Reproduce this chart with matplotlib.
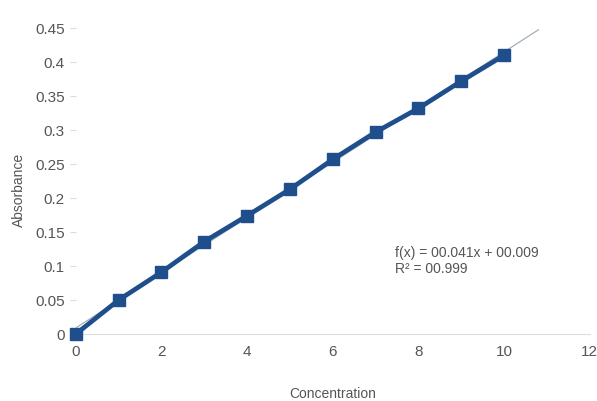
import numpy as np
import matplotlib.pyplot as plt

# Calibration data
concentration = [0, 1, 2, 3, 4, 5, 6, 7, 8, 9, 10]
absorbance = [0.0, 0.050, 0.091, 0.136, 0.174, 0.213, 0.257, 0.297, 0.332, 0.372, 0.410]
x_ticks = [0, 2, 4, 6, 8, 10, 12]
y_ticks = [0, 0.05, 0.1, 0.15, 0.2, 0.25, 0.3, 0.35, 0.4, 0.45]
y_tick_labels = ['0', '0.05', '0.1', '0.15', '0.2', '0.25', '0.3', '0.35', '0.4', '0.45']

plt.rcParams['font.family'] = ['Liberation Sans', 'DejaVu Sans']
grey = '#555555'

fig = plt.figure(figsize=(5.97, 4.01), dpi=100)
ax = fig.add_axes([0.127, 0.167, 0.861, 0.763])

# Linear trendline
slope, intercept = np.polyfit(concentration, absorbance, 1)
xt = np.array([0, 10.8])
ax.plot(xt, slope * xt + intercept, color='#9aa6b8', lw=0.8, zorder=2)

ax.plot(concentration, absorbance, color='#1f4e8c', lw=3.4, marker='s',
        markersize=9, zorder=3, clip_on=False)

ax.set_xlim(0, 12)
ax.set_ylim(0, 0.45)
ax.set_xticks(x_ticks)
ax.set_yticks(y_ticks)
ax.set_yticklabels(y_tick_labels)
ax.tick_params(axis='both', colors=grey, labelsize=11, length=0, pad=8)
ax.tick_params(axis='y', length=4, color='#dddddd', pad=4)

for side in ['top', 'right', 'left']:
    ax.spines[side].set_visible(False)
ax.spines['bottom'].set_color('#dddddd')

ax.set_xlabel('Concentration', color=grey, fontsize=10, labelpad=20)
ax.set_ylabel('Absorbance', color=grey, fontsize=10)
ax.yaxis.set_label_coords(-0.097, 0.47)

ax.text(7.45, 0.107, 'f(x) = 00.041x + 00.009\nR² = 00.999',
        color=grey, fontsize=10, va='center', linespacing=1.2)

fig.savefig('out.png', dpi=100)
